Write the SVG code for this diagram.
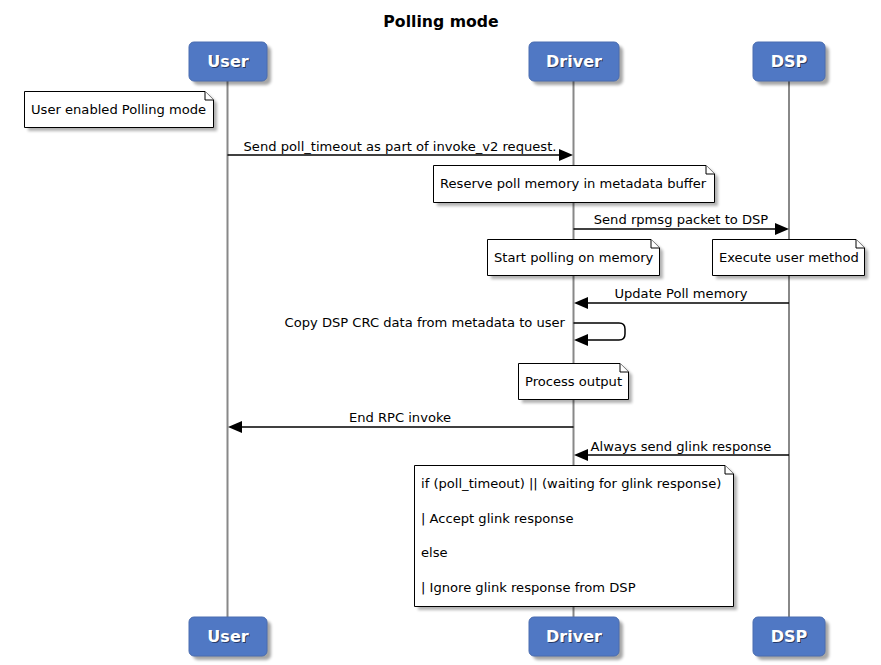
<svg xmlns="http://www.w3.org/2000/svg" width="881" height="665" viewBox="0 0 881 665">
<style>
text{font-family:"DejaVu Sans","Liberation Sans",sans-serif;fill:#000}
.title{font-size:15.7px;font-weight:bold;text-anchor:middle}
.pbox{fill:#5078C4;stroke:#4A6DB0;stroke-width:1}
.pshadow{fill:#000;opacity:0.35}
.plabel{font-size:16px;font-weight:bold;fill:#fff;text-anchor:middle}
.plshadow{font-size:16px;font-weight:bold;fill:#1a2a50;text-anchor:middle;opacity:0.8}
.life{stroke:#888;stroke-width:2}
.msg{stroke:#000;stroke-width:1.5;fill:none}
.head{fill:#000}
.mlabel{font-size:13.1px;text-anchor:middle}
.note{fill:#fff;stroke:#000;stroke-width:1}
.nshadow{fill:#000;opacity:0.3}
.ntext{font-size:13.1px}
</style>
<defs>
<filter id="blur" x="-20%" y="-20%" width="140%" height="140%"><feGaussianBlur stdDeviation="1.5"/></filter>
</defs>
<rect width="881" height="665" fill="#fff"/>
<text class="title" x="441" y="27">Polling mode</text>

<g id="lifelines">
<line class="life" x1="227.5" y1="81" x2="227.5" y2="617"/>
<line class="life" x1="573.5" y1="81" x2="573.5" y2="617"/>
<line class="life" x1="789" y1="81" x2="789" y2="617"/>
</g>

<g id="user">
<rect class="pshadow" x="193" y="46" width="78" height="39" rx="5" filter="url(#blur)"/>
<rect class="pbox" x="189" y="42" width="78" height="39" rx="5"/>
<text class="plshadow" x="229" y="68">User</text>
<text class="plabel" x="228" y="67">User</text>
</g>
<g id="driver">
<rect class="pshadow" x="533" y="46" width="90" height="39" rx="5" filter="url(#blur)"/>
<rect class="pbox" x="529" y="42" width="90" height="39" rx="5"/>
<text class="plshadow" x="575" y="68">Driver</text>
<text class="plabel" x="574" y="67">Driver</text>
</g>
<g id="dsp">
<rect class="pshadow" x="757" y="46" width="72" height="39" rx="5" filter="url(#blur)"/>
<rect class="pbox" x="753" y="42" width="72" height="39" rx="5"/>
<text class="plshadow" x="790" y="68">DSP</text>
<text class="plabel" x="789" y="67">DSP</text>
</g>
<g id="user-bottom">
<rect class="pshadow" x="193" y="621" width="78" height="39" rx="5" filter="url(#blur)"/>
<rect class="pbox" x="189" y="617" width="78" height="39" rx="5"/>
<text class="plshadow" x="229" y="643">User</text>
<text class="plabel" x="228" y="642">User</text>
</g>
<g id="driver-bottom">
<rect class="pshadow" x="533" y="621" width="90" height="39" rx="5" filter="url(#blur)"/>
<rect class="pbox" x="529" y="617" width="90" height="39" rx="5"/>
<text class="plshadow" x="575" y="643">Driver</text>
<text class="plabel" x="574" y="642">Driver</text>
</g>
<g id="dsp-bottom">
<rect class="pshadow" x="757" y="621" width="72" height="39" rx="5" filter="url(#blur)"/>
<rect class="pbox" x="753" y="617" width="72" height="39" rx="5"/>
<text class="plshadow" x="790" y="643">DSP</text>
<text class="plabel" x="789" y="642">DSP</text>
</g>

<g id="note-user-enabled">
<path class="nshadow" d="M28,95 H209 L217,103 V131 H28 Z" filter="url(#blur)"/>
<path class="note" d="M24.5,91.5 H205 L213.5,100 V127.5 H24.5 Z"/>
<path class="note" d="M205,91.5 V100 H213.5"/>
<text class="ntext" x="31" y="114">User enabled Polling mode</text>
</g>

<g id="note-reserve">
<path class="nshadow" d="M437,169 H710 L718,177 V206 H437 Z" filter="url(#blur)"/>
<path class="note" d="M433.5,165.5 H706 L714.5,174 V202.5 H433.5 Z"/>
<path class="note" d="M706,165.5 V174 H714.5"/>
<text class="ntext" x="440" y="188">Reserve poll memory in metadata buffer</text>
</g>

<g id="note-start-polling">
<path class="nshadow" d="M491,243 H655 L663,251 V279 H491 Z" filter="url(#blur)"/>
<path class="note" d="M487.5,239.5 H651 L659.5,248 V275.5 H487.5 Z"/>
<path class="note" d="M651,239.5 V248 H659.5"/>
<text class="ntext" x="494" y="262">Start polling on memory</text>
</g>

<g id="note-execute">
<path class="nshadow" d="M716,243 H860 L868,251 V279 H716 Z" filter="url(#blur)"/>
<path class="note" d="M712.5,239.5 H856 L864.5,248 V275.5 H712.5 Z"/>
<path class="note" d="M856,239.5 V248 H864.5"/>
<text class="ntext" x="719" y="262">Execute user method</text>
</g>

<g id="note-process">
<path class="nshadow" d="M522,367 H624 L632,375 V403 H522 Z" filter="url(#blur)"/>
<path class="note" d="M518.5,363.5 H620 L628.5,372 V399.5 H518.5 Z"/>
<path class="note" d="M620,363.5 V372 H628.5"/>
<text class="ntext" x="525" y="386">Process output</text>
</g>

<g id="note-glink">
<path class="nshadow" d="M418,469 H729 L737,477 V610 H418 Z" filter="url(#blur)"/>
<path class="note" d="M414.5,465.5 H725 L733.5,474 V606.5 H414.5 Z"/>
<path class="note" d="M725,465.5 V474 H733.5"/>
<text class="ntext" x="421" y="488">if (poll_timeout) || (waiting for glink response)</text>
<text class="ntext" x="421" y="523">| Accept glink response</text>
<text class="ntext" x="421" y="557">else</text>
<text class="ntext" x="421" y="592">| Ignore glink response from DSP</text>
</g>

<g id="connectors">
<line class="msg" x1="227.5" y1="155" x2="560" y2="155"/>
<polygon class="head" points="559,149 573,155 559,161"/>
<text class="mlabel" x="400" y="151">Send poll_timeout as part of invoke_v2 request.</text>

<line class="msg" x1="573.5" y1="229" x2="776" y2="229"/>
<polygon class="head" points="775,223 789,229 775,235"/>
<text class="mlabel" x="681" y="224">Send rpmsg packet to DSP</text>

<line class="msg" x1="789" y1="303" x2="587" y2="303"/>
<polygon class="head" points="588,297 574,303 588,309"/>
<text class="mlabel" x="681" y="298">Update Poll memory</text>

<path class="msg" d="M573.5,323 H619 Q625,323 625,329 V334 Q625,340 619,340 H587"/>
<polygon class="head" points="588,334 574,340 588,346"/>
<text class="mlabel" x="565" y="327" style="text-anchor:end">Copy DSP CRC data from metadata to user</text>

<line class="msg" x1="573.5" y1="427" x2="241" y2="427"/>
<polygon class="head" points="242,421 228,427 242,433"/>
<text class="mlabel" x="400" y="422">End RPC invoke</text>

<line class="msg" x1="789" y1="455" x2="587" y2="455"/>
<polygon class="head" points="588,449 574,455 588,461"/>
<text class="mlabel" x="681" y="451">Always send glink response</text>
</g>
</svg>
